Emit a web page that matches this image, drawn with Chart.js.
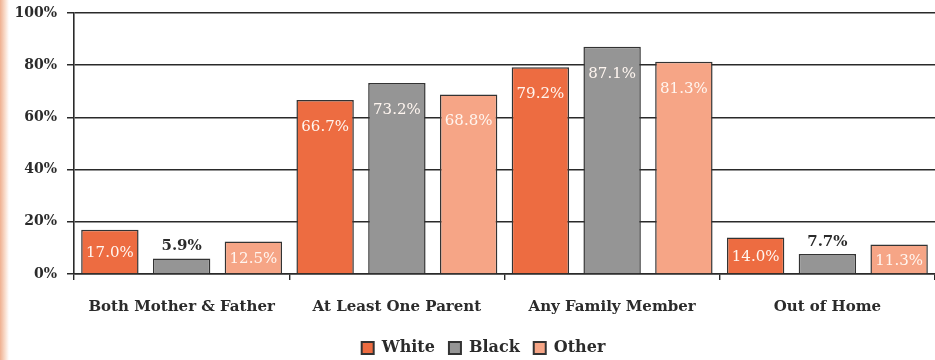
<!DOCTYPE html>
<html>
<head>
<meta charset="utf-8">
<script src="https://cdn.jsdelivr.net/npm/chart.js@4/dist/chart.umd.min.js"></script>
<style>
  html, body { margin: 0; padding: 0; background: #fff; overflow: hidden; }
  #wrap { position: relative; width: 935px; height: 360px; overflow: hidden; }
  #edge { position: absolute; left: 0; top: 0; width: 9px; height: 360px;
          background: linear-gradient(to right, #efb090, #f9dccb 55%, #ffffff); }
  canvas { position: absolute; left: 0; top: 0; }
</style>
</head>
<body>
<div id="wrap">
  <div id="edge"></div>
  <canvas id="c" width="935" height="366"></canvas>
</div>
<script>
// Placement of youth after leaving care, by race
const categories = ['Both Mother & Father', 'At Least One Parent', 'Any Family Member', 'Out of Home'];
const seriesNames = ['White', 'Black', 'Other'];
const whiteValues = [17.0, 66.7, 79.2, 14.0];
const blackValues = [5.9, 73.2, 87.1, 7.7];
const otherValues = [12.5, 68.8, 81.3, 11.3];
const yTickValues = [0, 20, 40, 60, 80, 100];

const SERIF = "'DejaVu Serif', 'Liberation Serif', serif";
const INK = '#2b2b2b';
const fills = ['#ed6c41', '#959595', '#f6a586'];

// Percent labels: white inside taller bars, dark above the short ones
const valueLabels = {
  id: 'valueLabels',
  afterDatasetsDraw(chart) {
    const ctx = chart.ctx;
    ctx.save();
    ctx.textAlign = 'center';
    ctx.textBaseline = 'middle';
    chart.data.datasets.forEach((ds, di) => {
      const meta = chart.getDatasetMeta(di);
      meta.data.forEach((bar, i) => {
        const v = ds.data[i];
        const txt = v.toFixed(1) + '%';
        const h = bar.base - bar.y;
        if (v < 10) {
          ctx.font = "bold 15px " + SERIF;
          ctx.fillStyle = INK;
          ctx.fillText(txt, bar.x, bar.y - 12);
        } else {
          ctx.font = "15px " + SERIF;
          ctx.fillStyle = '#fff6f0';
          ctx.fillText(txt, bar.x, bar.y + Math.min(27, h / 2 + 2));
        }
      });
    });
    ctx.restore();
  }
};

// Nudge the legend row a little right of centre
const legendShift = {
  id: 'legendShift',
  beforeDraw(chart) {
    if (chart.legend && !chart.legend._shifted) {
      chart.legend.left += 16;
      chart.legend.right += 16;
      chart.legend._shifted = true;
    }
  }
};

new Chart(document.getElementById('c'), {
  type: 'bar',
  data: {
    labels: categories,
    datasets: [
      { label: seriesNames[0], data: whiteValues },
      { label: seriesNames[1], data: blackValues },
      { label: seriesNames[2], data: otherValues }
    ].map((d, k) => Object.assign(d, {
      backgroundColor: fills[k],
      borderColor: '#333',
      borderWidth: 1.5,
      categoryPercentage: 1.0,
      barPercentage: 0.8
    }))
  },
  options: {
    responsive: false,
    animation: false,
    devicePixelRatio: 1,
    layout: { padding: { top: 13, right: 0, left: 0, bottom: 0 } },
    scales: {
      y: {
        min: 0, max: 100,
        afterBuildTicks: s => { s.ticks = yTickValues.map(v => ({ value: v })); },
        afterFit: s => { s.width = 74; s.paddingTop = 0; s.paddingBottom = 0; },
        ticks: {
          callback: v => v + '%',
          color: INK,
          padding: 10,
          font: { family: SERIF, size: 14, weight: 'bold' }
        },
        grid: { color: '#2a2a2a', lineWidth: 1.5, tickLength: 7 },
        border: { color: '#2a2a2a', width: 1.6 }
      },
      x: {
        afterFit: s => { s.height = 52; },
        ticks: {
          color: INK,
          padding: 18,
          font: { family: SERIF, size: 15, weight: 'bold' }
        },
        grid: { offset: true, drawOnChartArea: false, tickLength: 6, color: '#2a2a2a', lineWidth: 1.4 },
        border: { color: '#2a2a2a', width: 1.6 }
      }
    },
    plugins: {
      tooltip: { enabled: false },
      legend: {
        position: 'bottom',
        labels: {
          boxWidth: 12, boxHeight: 12,
          padding: 14,
          color: INK,
          font: { family: SERIF, size: 16, weight: 'bold' },
          generateLabels: chart => chart.data.datasets.map((d, k) => ({
            text: d.label,
            fillStyle: d.backgroundColor,
            strokeStyle: '#333',
            lineWidth: 2,
            datasetIndex: k,
            fontColor: INK
          }))
        }
      }
    }
  },
  plugins: [valueLabels, legendShift]
});
</script>
</body>
</html>
